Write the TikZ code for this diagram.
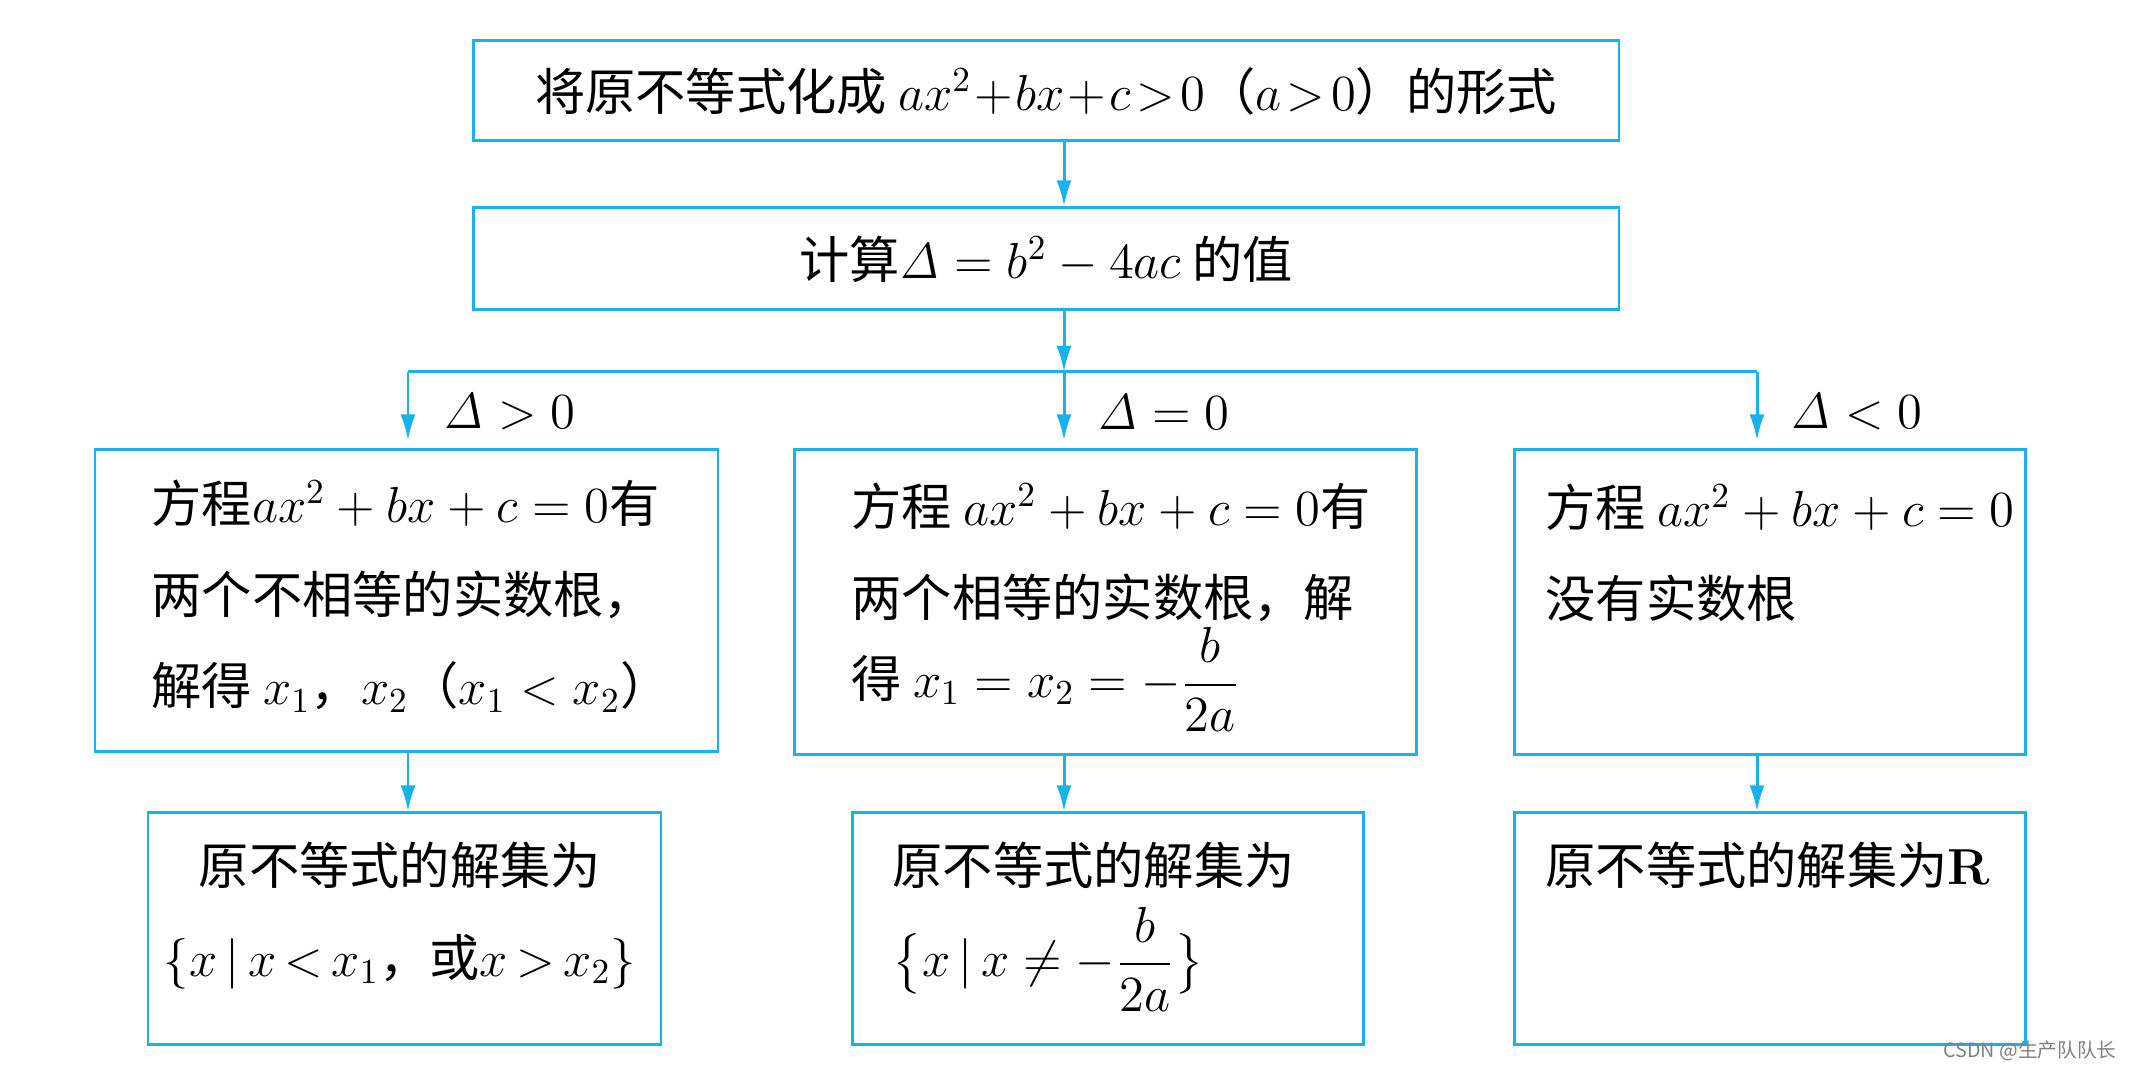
\documentclass[tikz,border=0pt]{standalone}
\usepackage{amsmath}
\usepackage[no-math]{fontspec}
\setmainfont{Noto Sans CJK SC}
\usetikzlibrary{arrows.meta}
\definecolor{flowblue}{RGB}{26,178,236}

\begin{document}
\begin{tikzpicture}[x=.1mm,y=-.1mm,line width=.85pt,
 >={Latex[length=2.6mm,width=1.5mm]},
 font=\fontsize{14.3}{26}\selectfont,
 flow/.style={draw=flowblue,rectangle,inner sep=0pt},
 link/.style={draw=flowblue,->},
 txt/.style={inner sep=0pt,align=left,anchor=north west},
 cond/.style={inner sep=0pt,anchor=west}]
\useasboundingbox (0,0) rectangle (2133,1071);
% top: rewrite the inequality, then compute the discriminant
\node[flow,minimum width=114.6mm,minimum height=10mm] (form) at (1046,91)
 {将原不等式化成 {\medmuskip=1mu\thickmuskip=2mu$ax^2+bx+c>0$（$a>0$）}的形式};
\node[flow,minimum width=114.6mm,minimum height=10.2mm] (delta) at (1046,259)
 {计算$\mathit{\Delta}=b^2-4ac$ 的值};
% three cases
\node[flow,minimum width=62.3mm,minimum height=30.2mm] (pos) at (406.5,601) {};
\node[flow,minimum width=62.2mm,minimum height=30.5mm] (zero) at (1105,602.5) {};
\node[flow,minimum width=51.1mm,minimum height=30.5mm] (neg) at (1769.5,602.5) {};
\node[txt] (tpos) at (150,478)
 {方程$ax^2+bx+c=0$有\\两个不相等的实数根，\\解得 $x_1$，$x_2$（$x_1<x_2$）};
\node[txt] (tzero) at (850,481)
 {方程 $ax^2+bx+c=0$有\\两个相等的实数根，解\\[-3pt]得 $x_1=x_2=-\dfrac{b}{2a}$};
\node[txt] (tneg) at (1544,482) {方程 $ax^2+bx+c=0$\\没有实数根};
% solution sets
\node[flow,minimum width=51.3mm,minimum height=23.2mm] (setpos) at (404.5,929) {};
\node[flow,minimum width=51.1mm,minimum height=23.2mm] (setzero) at (1107.5,929) {};
\node[flow,minimum width=51.1mm,minimum height=23.2mm] (setall) at (1769.5,929) {};
\node[txt,align=center,anchor=north] (tsetpos) at (400,841)
 {原不等式的解集为\\{\thickmuskip=3mu$\{x\,|\,x<x_1$，或$x>x_2\}$}};
\node[txt] (tsetzero) at (891,841)
 {原不等式的解集为\\$\bigl\{x\,|\,x\neq-\dfrac{b}{2a}\bigr\}$};
\node[txt] (tsetall) at (1544,841) {原不等式的解集为$\mathbf{R}$};
% branch columns
\coordinate (cL) at (408,372);
\coordinate (cM) at (1064,372);
\coordinate (cR) at (1757,372);
\node[cond] (lpos) at (442,412) {$\mathit{\Delta}>0$};
\node[cond] (lzero) at (1096,412) {$\mathit{\Delta}=0$};
\node[cond] (lneg) at (1789,412) {$\mathit{\Delta}<0$};
\draw[link] (form.south -| cM) -- (delta.north -| cM);
\draw[link] (delta.south -| cM) -- (cM);
\draw[flowblue] (cL) -- (cR);
\foreach \c/\b in {cL/pos,cM/zero,cR/neg}
 \draw[link,shorten >=.8mm] (\c) -- (\c |- \b.north);
\foreach \c/\b/\r in {cL/pos/setpos,cM/zero/setzero,cR/neg/setall}
 \draw[link] (\b.south -| \c) -- (\r.north -| \c);
\node[inner sep=0pt,anchor=east,text=gray,font=\fontsize{5.6}{6}\selectfont]
 (mark) at (2118,1051) {CSDN @生产队队长};
\end{tikzpicture}
\end{document}
